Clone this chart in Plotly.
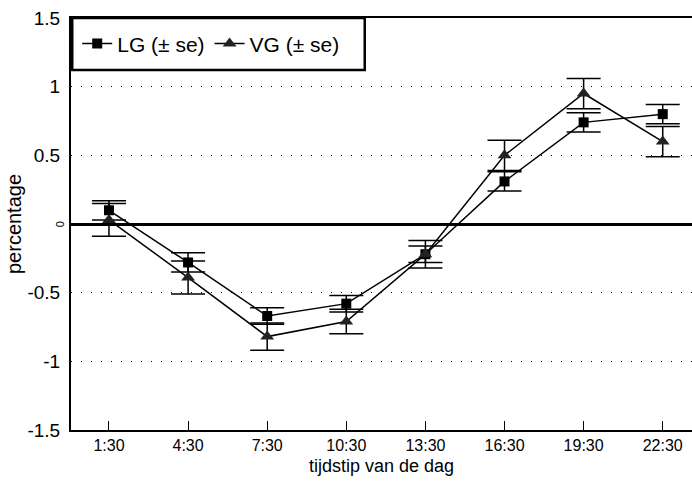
import plotly.graph_objects as go

times = ["1:30", "4:30", "7:30", "10:30", "13:30", "16:30", "19:30", "22:30"]
lg = [0.10, -0.28, -0.67, -0.58, -0.22, 0.31, 0.74, 0.80]
lg_se = [0.07, 0.07, 0.06, 0.06, 0.06, 0.07, 0.07, 0.07]
vg = [0.03, -0.39, -0.82, -0.71, -0.22, 0.50, 0.95, 0.60]
vg_se = [0.12, 0.12, 0.10, 0.09, 0.10, 0.11, 0.11, 0.11]
yticks = [-1.5, -1, -0.5, 0, 0.5, 1, 1.5]
ytick_text = ["-1.5", "-1", "-0.5", "", "0.5", "1", "1.5"]

xpos = list(range(len(times)))
font = "Liberation Sans, Arial, Helvetica, sans-serif"

fig = go.Figure()
fig.add_trace(go.Scatter(
    x=xpos, y=lg, name="LG (± se)", mode="lines+markers",
    line=dict(color="black", width=1.5),
    marker=dict(symbol="square", size=10, color="black"),
    error_y=dict(type="data", array=lg_se, color="black", thickness=1.5, width=17),
))
fig.add_trace(go.Scatter(
    x=xpos, y=vg, name="VG (± se)", mode="lines+markers",
    line=dict(color="black", width=1.5),
    marker=dict(symbol="triangle-up", size=12, color="#222"),
    error_y=dict(type="data", array=vg_se, color="black", thickness=1.5, width=17),
))

# legend frame
fig.add_shape(type="rect", xref="paper", yref="paper",
              x0=0.002, x1=0.473, y0=0.874, y1=1.0,
              line=dict(color="black", width=2.5), fillcolor="white", layer="above")
# rotated zero label
fig.add_annotation(x=-0.03, y=0, xref="paper", yref="y", text="0",
                   showarrow=False, textangle=-90, font=dict(size=11, family=font))

fig.update_layout(
    width=692, height=493,
    margin=dict(l=71, r=0, t=18, b=63),
    paper_bgcolor="white", plot_bgcolor="white",
    font=dict(family=font, color="black", size=16),
    showlegend=True,
    legend=dict(
        orientation="h", x=0.01, y=0.937, xanchor="left", yanchor="middle",
        borderwidth=0, bgcolor="rgba(0,0,0,0)",
        font=dict(size=21, family=font),
    ),
    xaxis=dict(
        range=[-0.48, 7.37], tickmode="array", tickvals=xpos, ticktext=times,
        ticks="inside", ticklen=9, tickcolor="black", tickwidth=1,
        showline=True, linecolor="black", linewidth=2, mirror=True,
        showgrid=False, zeroline=False,
        title=dict(text="tijdstip van de dag", font=dict(size=18), standoff=6),
        tickfont=dict(size=16),
    ),
    yaxis=dict(
        range=[-1.5, 1.5], tickmode="array", tickvals=yticks, ticktext=ytick_text,
        ticks="outside", ticklen=5, tickcolor="white",
        showline=True, linecolor="black", linewidth=2,
        showgrid=True, gridcolor="black", gridwidth=1, griddash="1px,9px",
        zeroline=True, zerolinecolor="black", zerolinewidth=2.5,
        title=dict(text="percentage", font=dict(size=20), standoff=0),
        tickfont=dict(size=19),
    ),
)

fig.write_html("out.html")
